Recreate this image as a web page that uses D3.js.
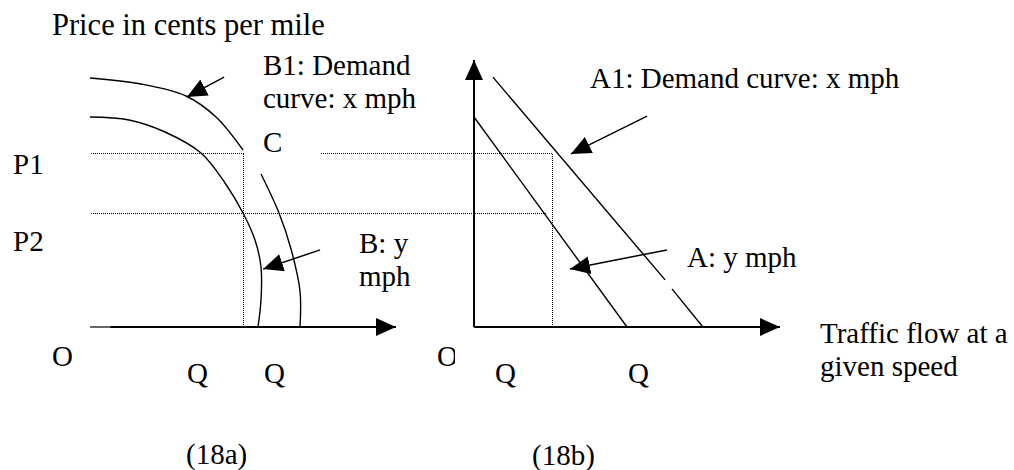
<!DOCTYPE html>
<html>
<head>
<meta charset="utf-8">
<script src="https://cdn.jsdelivr.net/npm/d3@7"></script>
<style>
  body { margin: 0; background: #fff; }
  text { font-family: "Times New Roman", "Liberation Serif", serif; font-size: 29px; fill: #000; }
</style>
</head>
<body>
<div id="chart"></div>
<script>
// values in chart units (quantity, price)
var P1 = 58, P2 = 38;

// left panel (18a)
var curveB  = [[0,70],[13,69],[25,65],[37,58],[45,48],[51,38],[55,29],[57,20],[57,9],[56,0]];
var curveB1top = [[0,83],[17,81],[32,77],[42,70],[51,59]];
var curveB1low = [[57,51],[63,38],[67,26],[70,12],[70,0]];
var qLeft = 51;

// right panel (18b)
var lineA   = [[0,70],[51,0]];
var lineA1a = [[6.3,83.3],[63.7,15.7]];
var lineA1b = [[66,12.7],[76.3,0]];
var qRight = 26;

var qTicksLeft  = [32.3, 58];
var qTicksRight = [7, 51.3];

var pointers = [
  {panel: "L", from: [44.7,83.3], to: [32.3,76.7]},
  {panel: "L", from: [76.7,25.7], to: [57.7,19.3]},
  {panel: "R", from: [57.7,70.3], to: [32.3,57.7]},
  {panel: "R", from: [64.3,25.7], to: [32,19.3]}
];

var width = 1014, height = 470;

var svg = d3.select("#chart").append("svg")
    .attr("width", width)
    .attr("height", height);

// scales: 3px per unit, both panels share the price axis
var y  = d3.scaleLinear().domain([0,100]).range([327,27]);
var xL = d3.scaleLinear().domain([0,100]).range([90,390]);
var xR = d3.scaleLinear().domain([0,100]).range([474,774]);

var defs = svg.append("defs");
defs.append("marker")
    .attr("id", "head")
    .attr("markerUnits", "userSpaceOnUse")
    .attr("viewBox", "0 0 20 18")
    .attr("refX", 20).attr("refY", 9)
    .attr("markerWidth", 20).attr("markerHeight", 18)
    .attr("orient", "auto")
  .append("path")
    .attr("d", "M0,0L20,9L0,18Z")
    .attr("fill", "#000");
defs.append("clipPath").attr("id", "clipO")
  .append("rect").attr("x", 420).attr("y", 330).attr("width", 35).attr("height", 50);

function lineGen(x) {
  return d3.line().x(function(d){ return x(d[0]); }).y(function(d){ return y(d[1]); });
}
function curveGen(x) {
  return d3.line().x(function(d){ return x(d[0]); }).y(function(d){ return y(d[1]); })
      .curve(d3.curveCatmullRom.alpha(0.5));
}

// dotted guides (half pixel offset so the dots stay crisp)
var dots = svg.append("g")
    .attr("transform", "translate(0.5,0.5)")
    .attr("stroke", "#000").attr("stroke-width", 1)
    .attr("stroke-dasharray", "1,1").attr("fill", "none")
    .attr("shape-rendering", "crispEdges");
dots.append("line").attr("x1", xL(0)).attr("x2", xL(qLeft)).attr("y1", y(P1)).attr("y2", y(P1));
dots.append("line").attr("x1", 320).attr("x2", xR(qRight)).attr("y1", y(P1)).attr("y2", y(P1));
dots.append("line").attr("x1", xL(0)).attr("x2", xR(24)).attr("y1", y(P2)).attr("y2", y(P2));
dots.append("line").attr("x1", xL(qLeft)).attr("x2", xL(qLeft)).attr("y1", y(P1)).attr("y2", y(0));
dots.append("line").attr("x1", xR(qRight)).attr("x2", xR(qRight)).attr("y1", y(P1)).attr("y2", y(0));

// axes
var axes = svg.append("g").attr("stroke", "#000").attr("fill", "none");
axes.append("line").attr("x1", xL(0)).attr("x2", xL(6.7)).attr("y1", y(0)).attr("y2", y(0)).attr("stroke-width", 1.2);
axes.append("line").attr("x1", xL(6.7)).attr("x2", xL(102)).attr("y1", y(0)).attr("y2", y(0))
    .attr("stroke-width", 2).attr("marker-end", "url(#head)");
axes.append("line").attr("x1", xR(0)).attr("x2", xR(102)).attr("y1", y(0)).attr("y2", y(0))
    .attr("stroke-width", 2).attr("marker-end", "url(#head)");
axes.append("line").attr("x1", xR(0)).attr("x2", xR(0)).attr("y1", y(0)).attr("y2", y(89))
    .attr("stroke-width", 2).attr("marker-end", "url(#head)");

// demand curves
var curves = svg.append("g").attr("stroke", "#000").attr("stroke-width", 1.4).attr("fill", "none");
curves.append("path").attr("d", curveGen(xL)(curveB));
curves.append("path").attr("d", curveGen(xL)(curveB1top));
curves.append("path").attr("d", curveGen(xL)(curveB1low));
curves.append("path").attr("d", lineGen(xR)(lineA));
curves.append("path").attr("d", lineGen(xR)(lineA1a));
curves.append("path").attr("d", lineGen(xR)(lineA1b));

// label pointers
svg.append("g").selectAll("line")
    .data(pointers)
    .enter().append("line")
    .attr("x1", function(d){ return (d.panel == "L" ? xL : xR)(d.from[0]); })
    .attr("y1", function(d){ return y(d.from[1]); })
    .attr("x2", function(d){ return (d.panel == "L" ? xL : xR)(d.to[0]); })
    .attr("y2", function(d){ return y(d.to[1]); })
    .attr("stroke", "#000").attr("stroke-width", 1.5)
    .attr("marker-end", "url(#head)");

// text
var labels = svg.append("g");
function label(x, yy, s) { return labels.append("text").attr("x", x).attr("y", yy).text(s); }

label(52, 35, "Price in cents per mile").style("font-size", "30.5px");
label(263, 75, "B1: Demand");
label(263, 108, "curve: x mph");
label(263, 152, "C");
label(13, y(P1) + 21, "P1");
label(13, y(P2) + 38, "P2");
label(359, 253, "B: y");
label(359, 286, "mph");
label(590, 88, "A1: Demand curve: x mph");
label(687, 267, "A: y mph");
label(52, 366, "O");
label(437, 366, "O").attr("clip-path", "url(#clipO)");

labels.selectAll(".qL").data(qTicksLeft).enter().append("text")
    .attr("x", function(d){ return xL(d); }).attr("y", 383).text("Q");
labels.selectAll(".qR").data(qTicksRight).enter().append("text")
    .attr("x", function(d){ return xR(d); }).attr("y", 383).text("Q");

label(820, 343, "Traffic flow at a");
label(820, 376, "given speed");
label(186, 464, "(18a)");
label(532, 465, "(18b)");
</script>
</body>
</html>
